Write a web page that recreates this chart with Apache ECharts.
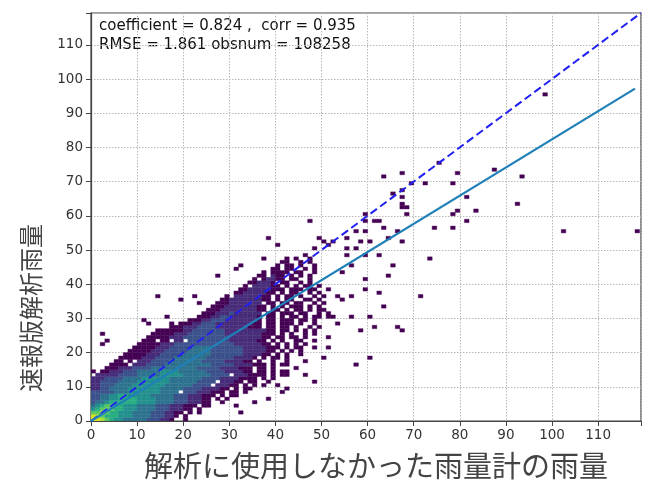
<!DOCTYPE html>
<html><head><meta charset="utf-8">
<script src="https://cdn.jsdelivr.net/npm/echarts@6/dist/echarts.min.js"></script>
<style>html,body{margin:0;padding:0;background:#fff}#c{width:645px;height:485px}</style>
</head><body><div id="c"></div>
<script>
// ---- axis / text ----
const axisMax = 119.3;
const tickStep = 10;
const xTitle = '解析に使用しなかった雨量計の雨量';
const yTitle = '速報版解析雨量';
const statsLine1 = 'coefficient = 0.824 ,  corr = 0.935';
const statsLine2 = 'RMSE = 1.861 obsnum = 108258';

// ---- lines ----
const oneToOneLine = [[0, 0], [119.3, 119.3]];
const regressionLine = [[0, 0], [118, 97.2]];

// ---- 2D histogram (1 mm bins) ----
// levels: '.' empty, '1'..'9','a' = count level (viridis, log scale)
// rows y = 0..26, run-length tokens "<level><count>" from x = 0
const densityRowsLow = [
  "a1 91 81 71 61 52 45 33 22 11 .2 11",
  "91 81 71 61 62 53 44 33 22 11 .1 11",
  "71 71 81 71 62 53 44 33 22 12 .1 11 .1 11",
  "51 61 71 72 62 53 44 33 23 12 .1 11",
  "41 51 61 72 62 53 44 33 23 13 .1 12",
  "31 42 51 66 54 44 33 23 12 .2 11",
  "32 42 52 64 54 44 33 23 12 .1 11 .1 11",
  "32 42 52 62 55 45 33 23 13 .1 11 .2 11",
  "35 43 57 44 .1 33 23 13 .1 12 .1 11",
  "22 32 44 57 45 34 24 12 .1 11 .1 12",
  "22 33 44 57 46 34 .1 23 12 .1 11 .1 11 .1 11",
  "22 34 44 57 46 34 .1 23 12 .1 12 .2 11",
  "23 34 44 56 47 34 24 14 .1 11 .1 11",
  ".1 25 34 45 55 46 34 .1 23 14 .1 11 .1 12",
  "11 .1 12 23 33 45 54 46 34 24 12 .1 12 .1 11 .1 11",
  ".3 13 23 34 410 35 24 13 .1 12 .1 11",
  ".4 14 .1 23 34 410 35 24 13 .1 11 .1 12",
  ".5 12 .1 11 .1 23 34 47 35 24 12 .1 11 .2 11",
  ".6 15 23 34 47 36 24 11 .1 11 .1 12 .1 11",
  ".7 15 23 35 46 37 24 12 .1 11 .1 11 .2 11",
  ".8 15 23 35 45 37 25 12 .1 11 .1 11 .1 11",
  ".9 15 23 35 44 37 25 13 .1 11 .1 12 .2 11",
  ".10 15 23 313 26 12 .1 11 .1 11 .1 11 .1 11",
  ".11 13 .1 12 .1 22 .1 39 26 12 .1 11 .1 11 .2 12",
  ".12 15 23 310 27 12 .1 12 .1 12 .1 11",
  ".13 15 23 38 28 13 .1 11 .1 11 .2 11 .1 11",
  ".14 16 22 37 29 12 .1 12 .1 11 .1 11 .1 11"
];
// rows y = 27..47, one character per x bin from x = 0
const densityRowsHigh = [
  ".................11122233332222222111.11.11.1..1",
  "...................111223332222222211.11.111.1..1",
  ".....................1112233322222221.11.111.11.1",
  ".......................11122332222221.11.1.11.1.11..1",
  "........................1112223222222.11.111.11..1.1",
  ".........................1112222222211.11.1.11.1.11",
  "..........................111222222211.1.1.111.1.1",
  "...........................1112222222.11.11.11..1.1",
  "............................11222222211.1.11..11.1",
  ".............................1.22222211.1.11.1..1.1",
  "...............................112222211.1.11..1.1",
  "................................1122222111.1.1.11..1",
  ".................................1.222211.1.1.1..1",
  "..................................112221.11..1.1",
  "...................................1.12211.11..1",
  "....................................11.211.1.1.1",
  ".....................................1.1111.11..1",
  ".......................................11.11..1.1",
  "........................................1.11.1..1",
  ".........................................11..1.1",
  "..........................................1.1..1"
];

// isolated single-count bins [x, y]
const sparseCells = [
  [2,25],[3,23],[2,22],[11,29],[12,28],[14,36],[16,30],[17,28],[19,35],[22,36],[23,34],
  [27,42],[31,44],[32,45],[37,47],[38,53],[40,51],[42,46],[47,58],
  [44,47],[46,48],[48,50],[49,53],[50,52],[52,52],[55,53],[58,52],[60,52],[64,53],[67,52],
  [51,51],[55,50],[57,50],[62,48],[59,48],[55,48],[65,45],[56,45],[64,42],[59,41],[54,43],
  [59,55],[57,55],[63,56],[66,55],[59,58],[61,58],[62,58],[59,60],[65,66],[67,67],[67,65],
  [67,63],[68,62],[67,62],[68,60],[63,71],[67,72],[69,69],[72,69],[75,75],[78,69],[79,72],
  [87,73],[93,71],[81,65],[92,63],[79,61],[78,60],[83,61],[81,58],[74,56],[78,56],[102,55],
  [118,55],[73,47],[98,95],
  [56,36],[59,38],[62,37],[71,36],[63,33],[54,35],[51,38],[53,36],[56,30],[60,30],[61,27],
  [66,27],[67,26],[58,26],[48,30],[51,30],[46,22],[48,23],[51,24],[51,21],[50,18],[46,17],
  [42,17],[42,14],[44,15],[57,16],[60,18],[48,11],[42,9],[41,8],[40,10],[35,5],[31,4],[32,2],
  [30,7],[28,9],[26,7],[43,24],[42,28],[43,31],[44,26],[45,29],[47,33],[49,35],[45,36],[47,39],
  [44,38],[49,27],[53,28],[46,13],[37,10],[38,6],[33,8]
];

const levelColors = [null,'#440154','#472c7a','#3b518b','#2c718e','#21908d','#27ad81','#5cc863','#aadc32','#d5e21a','#fde725'];

// ---- build histogram data ----
const levelOf = ch => (ch === 'a' ? 10 : parseInt(ch, 10));
const cellMap = new Map();
const put = (x, y, lv) => cellMap.set(x + ',' + y, [x, y, lv]);
densityRowsLow.forEach((row, y) => {
  let x = 0;
  row.trim().split(/\s+/).forEach(tok => {
    const ch = tok[0], n = parseInt(tok.slice(1), 10);
    for (let k = 0; k < n; k++, x++) if (ch !== '.') put(x, y, levelOf(ch));
  });
});
densityRowsHigh.forEach((row, i) => {
  const y = densityRowsLow.length + i;
  for (let x = 0; x < row.length; x++) if (row[x] !== '.') put(x, y, levelOf(row[x]));
});
sparseCells.forEach(([x, y]) => { if (!cellMap.has(x + ',' + y)) put(x, y, 1); });
const cells = Array.from(cellMap.values());

const chart = echarts.init(document.getElementById('c'), null, {renderer: 'canvas'});
const tickFmt = v => (Math.abs(v % tickStep) < 1e-9 ? String(v) : '');
const axisCommon = {
  type: 'value', min: 0, max: axisMax, interval: tickStep,
  axisLine: {show: true, lineStyle: {color: '#444', width: 1.2}},
  axisTick: {show: true, length: 5, lineStyle: {color: '#444', width: 1}},
  axisLabel: {fontFamily: 'DejaVu Sans', fontSize: 13.5, color: '#333', margin: 8, formatter: tickFmt},
  splitLine: {show: true, lineStyle: {color: '#b8b8b8', type: [1.5, 1.5], width: 1}}
};
chart.setOption({
  animation: false,
  backgroundColor: '#fff',
  grid: {left: 91, right: 4, top: 13, bottom: 63, show: true, borderColor: '#444', borderWidth: 1.2, backgroundColor: 'transparent'},
  xAxis: Object.assign({}, axisCommon, {
    name: xTitle, nameLocation: 'middle', nameGap: 30,
    nameTextStyle: {fontFamily: 'Noto Sans CJK JP', fontSize: 29, color: '#444', padding: [0, 0, 0, 20]}
  }),
  yAxis: Object.assign({}, axisCommon),
  graphic: [
    {type: 'text', x: 31, y: 308, rotation: Math.PI / 2,
     style: {text: yTitle, font: '24px "Noto Sans CJK JP"', fill: '#444', textAlign: 'center', textVerticalAlign: 'middle'}},
    {type: 'text', left: 99, top: 19, style: {text: statsLine1, font: '15px "DejaVu Sans"', fill: '#111'}},
    {type: 'text', left: 99, top: 38, style: {text: statsLine2, font: '15px "DejaVu Sans"', fill: '#111'}}
  ],
  series: [
    {
      type: 'custom', name: 'hist2d', data: cells, clip: true, silent: true, z: 2,
      encode: {x: 0, y: 1},
      renderItem: (params, api) => {
        const x = api.value(0), y = api.value(1), lv = api.value(2);
        const a = api.coord([x, y + 1]);
        const b = api.coord([x + 1, y]);
        const c = levelColors[lv];
        return {type: 'rect', shape: {x: a[0], y: a[1], width: b[0] - a[0], height: b[1] - a[1]},
                style: {fill: c, stroke: c, lineWidth: 0.4}};
      }
    },
    {type: 'line', name: '1:1', data: oneToOneLine, showSymbol: false, silent: true, z: 5,
     lineStyle: {color: '#2020f0', width: 2, type: [8, 4]}},
    {type: 'line', name: 'fit', data: regressionLine, showSymbol: false, silent: true, z: 5,
     lineStyle: {color: '#1f80b8', width: 2.2}}
  ]
});
</script>
</body></html>
